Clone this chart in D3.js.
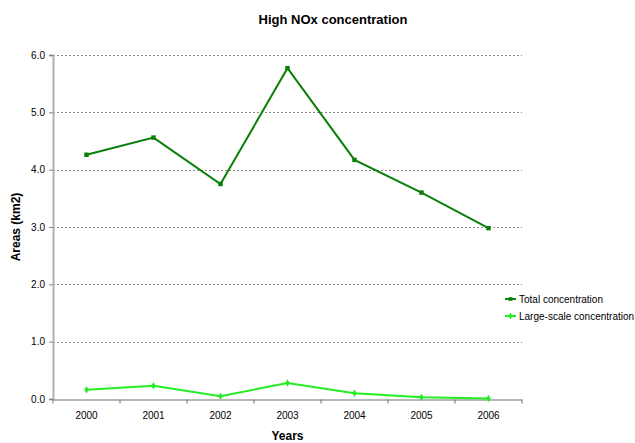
<!DOCTYPE html>
<html>
<head>
<meta charset="utf-8">
<script src="https://cdn.jsdelivr.net/npm/d3@7"></script>
<style>
  html, body { margin: 0; padding: 0; background: #fff; }
  svg { display: block; font-family: "Liberation Sans", Arial, sans-serif; }
</style>
</head>
<body>
<svg id="chart" width="635" height="443"></svg>
<script>
// Years on the category axis
const years = ["2000", "2001", "2002", "2003", "2004", "2005", "2006"];
// Area with high NOx concentration (km2)
const totalConcentration = [4.26, 4.56, 3.75, 5.77, 4.17, 3.60, 2.98];
const largeScaleConcentration = [0.16, 0.23, 0.05, 0.28, 0.10, 0.03, 0.01];
// Value axis ticks
const yTicks = [0, 1, 2, 3, 4, 5, 6];

const seriesNames = ["Total concentration", "Large-scale concentration"];
const seriesColors = ["#0a800a", "#22ee22"];

const svg = d3.select("#chart");
const margin = { left: 53, right: 113, top: 55, bottom: 44 };
const W = 635, H = 443;
const plotL = margin.left, plotR = W - margin.right;
const plotT = margin.top, plotB = H - margin.bottom;

const x = d3.scaleBand().domain(years).range([plotL, plotR]);
const y = d3.scaleLinear().domain([0, 6]).range([plotB, plotT]);
const cx = d => x(d) + x.bandwidth() / 2;
const font = "Liberation Sans, Arial, sans-serif";

// Title
svg.append("text")
  .attr("x", 333).attr("y", 24)
  .attr("text-anchor", "middle")
  .attr("font-size", 13).attr("font-weight", "bold")
  .text("High NOx concentration");

// Horizontal gridlines
svg.append("g")
  .selectAll("line")
  .data(yTicks.filter(t => t > 0))
  .join("line")
  .attr("x1", plotL).attr("x2", plotR)
  .attr("y1", d => Math.round(y(d)) + 0.5).attr("y2", d => Math.round(y(d)) + 0.5)
  .attr("stroke", "#8a8a8a").attr("stroke-width", 1)
  .attr("stroke-dasharray", "2,2");

// Y axis
const yAxis = svg.append("g")
  .attr("transform", `translate(${plotL},0)`)
  .call(d3.axisLeft(y).tickValues(yTicks).tickFormat(d3.format(".1f")).tickSize(4).tickPadding(4));
yAxis.select(".domain").attr("stroke", "#b0b0b0").attr("stroke-width", 2);
yAxis.selectAll(".tick line").attr("stroke", "#808080");
yAxis.selectAll("text").attr("font-size", 10).attr("fill", "#000").attr("font-family", font);

// X axis
const xAxis = svg.append("g")
  .attr("transform", `translate(0,${Math.round(plotB) + 0.5})`)
  .call(d3.axisBottom(x).tickSize(0).tickPadding(12));
xAxis.select(".domain").attr("stroke", "#707070").attr("stroke-width", 1);
xAxis.selectAll("text").attr("font-size", 10).attr("fill", "#000").attr("font-family", font);
// Category separators below the axis
xAxis.append("g")
  .selectAll("line")
  .data(d3.range(years.length + 1))
  .join("line")
  .attr("x1", i => plotL + i * x.bandwidth()).attr("x2", i => plotL + i * x.bandwidth())
  .attr("y1", 0).attr("y2", 4)
  .attr("stroke", "#707070");

// Axis titles
svg.append("text")
  .attr("x", (plotL + plotR) / 2).attr("y", 440)
  .attr("text-anchor", "middle")
  .attr("font-size", 12).attr("font-weight", "bold")
  .text("Years");
svg.append("text")
  .attr("transform", `translate(20,${(plotT + plotB) / 2}) rotate(-90)`)
  .attr("text-anchor", "middle")
  .attr("font-size", 12).attr("font-weight", "bold")
  .text("Areas (km2)");

// Series lines and markers
const line = d3.line().x(d => cx(d.year)).y(d => y(d.value));
const allSeries = [totalConcentration, largeScaleConcentration].map((vals, i) => ({
  name: seriesNames[i], color: seriesColors[i],
  points: vals.map((v, j) => ({ year: years[j], value: v }))
}));

const squareSym = d3.symbol().type(d3.symbolSquare).size(20);
const diamondSym = d3.symbol().type(d3.symbolDiamond).size(16);

allSeries.forEach((s, i) => {
  svg.append("path")
    .datum(s.points)
    .attr("d", line)
    .attr("fill", "none")
    .attr("stroke", s.color)
    .attr("stroke-width", 2);
  svg.append("g")
    .selectAll("path")
    .data(s.points)
    .join("path")
    .attr("transform", d => `translate(${cx(d.year)},${y(d.value)})`)
    .attr("d", i === 0 ? squareSym : diamondSym)
    .attr("fill", s.color);
});

// Legend
const legend = svg.append("g").attr("transform", "translate(505,299)");
allSeries.forEach((s, i) => {
  const g = legend.append("g").attr("transform", `translate(0,${i * 17})`);
  g.append("line").attr("x1", 0).attr("x2", 11).attr("y1", 0).attr("y2", 0)
    .attr("stroke", s.color).attr("stroke-width", 2);
  g.append("path").attr("transform", "translate(5.5,0)")
    .attr("d", (i === 0 ? d3.symbol().type(d3.symbolSquare).size(14) : d3.symbol().type(d3.symbolDiamond).size(14))())
    .attr("fill", s.color);
  g.append("text").attr("x", 14).attr("y", 3.5)
    .attr("font-size", 10).attr("fill", "#000")
    .text(s.name);
});
</script>
</body>
</html>
